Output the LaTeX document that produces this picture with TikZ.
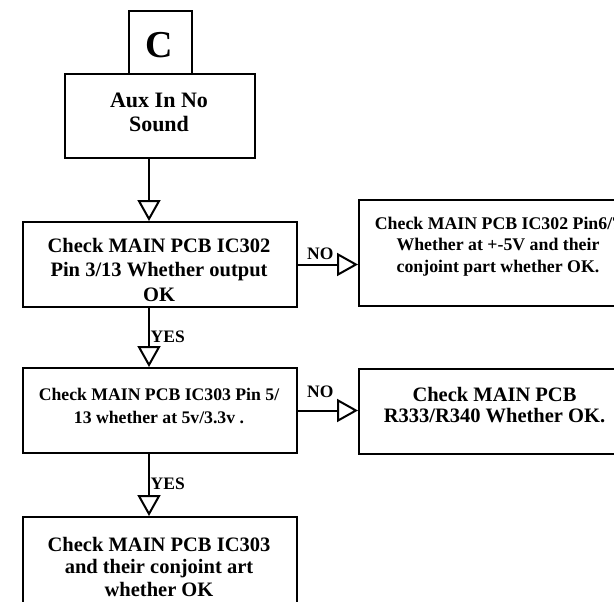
\documentclass[tikz,border=0pt]{standalone}
\usepackage{fontspec}
\setmainfont{Liberation Serif}
\usetikzlibrary{arrows.meta}
\tikzset{
  box/.style={draw, line width=2pt, inner sep=0pt, anchor=north west},
  txt/.style={align=center, inner sep=0pt, anchor=north},
  conn/.style={line width=2pt, -{Triangle[open, length=21pt, width=23pt, line width=2pt]}},
  lbl/.style={inner sep=0pt, anchor=south west, font=\bfseries\fontsize{17.5}{20}\selectfont},
}
\begin{document}
\begin{tikzpicture}[x=1pt, y=-1pt]
\useasboundingbox (0,0) rectangle (614,602);
\clip (0,0) rectangle (614,602);
% boxes
\node[box, minimum width=63pt, minimum height=63pt] (cbox) at (128,10) {};
\node[box, minimum width=190pt, minimum height=84pt] (aux) at (64,73) {};
\node[box, minimum width=274pt, minimum height=85pt] (b2) at (22,221) {};
\node[box, minimum width=280pt, minimum height=106pt] (r1) at (358,199) {};
\node[box, minimum width=274pt, minimum height=85pt] (b3) at (22,367) {};
\node[box, minimum width=273pt, minimum height=85pt] (r2) at (358,367.5) {};
\node[box, minimum width=274pt, minimum height=100pt] (b4) at (22,516) {};
% texts
\node[inner sep=0pt, font=\bfseries\fontsize{38}{40}\selectfont] (tc) at (159.5,45) {C};
\node[txt, font=\bfseries\fontsize{22}{24}\selectfont] (ta) at (159,92.5) {Aux In No\\Sound};
\node[txt, font=\bfseries\fontsize{20.5}{24.5}\selectfont] (t2) at (159,238) {Check MAIN PCB IC302\\Pin 3/13 Whether output\\OK};
\node[txt, font=\bfseries\fontsize{17.8}{21.7}\selectfont] (tr1) at (498,216.5) {Check MAIN PCB IC302 Pin6/7\\Whether at +-5V and their\\conjoint part whether OK.};
\node[txt, font=\bfseries\fontsize{17.7}{23}\selectfont] (t3) at (159,388) {Check MAIN PCB IC303 Pin 5/\\13 whether at 5v/3.3v .};
\node[txt, font=\bfseries\fontsize{20.5}{21.5}\selectfont] (tr2) at (494.5,387) {Check MAIN PCB\\R333/R340 Whether OK.};
\node[txt, font=\bfseries\fontsize{20.5}{22.5}\selectfont] (t4) at (159,537) {Check MAIN PCB IC303\\and their conjoint art\\whether OK};
% connectors
\coordinate (vx) at (149,0);
\draw[conn] (aux.south -| vx) -- (b2.north -| vx);
\draw[conn] (b2.south -| vx) -- (b3.north -| vx);
\draw[conn] (b3.south -| vx) -- (b4.north -| vx);
\draw[conn] (b2.east) -- (b2.east -| r1.west);
\draw[conn] (b3.east) -- (b3.east -| r2.west);
% labels
\node[lbl] (no1) at (307,260) {NO};
\node[lbl] (no2) at (307,398.3) {NO};
\node[lbl] (yes1) at (150.5,343) {YES};
\node[lbl] (yes2) at (150.5,490) {YES};
\end{tikzpicture}
\end{document}
